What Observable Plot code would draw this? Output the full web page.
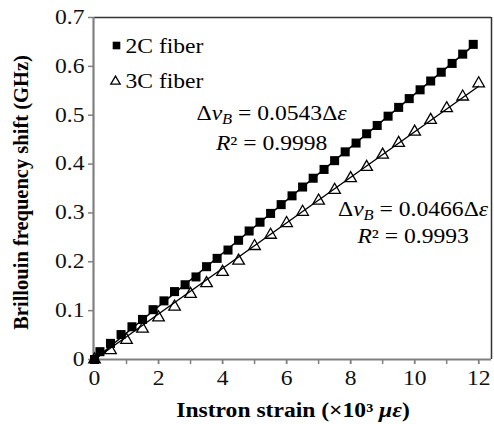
<!DOCTYPE html>
<html>
<head>
<meta charset="utf-8">
<script src="https://cdn.jsdelivr.net/npm/d3@7"></script>
<script src="https://cdn.jsdelivr.net/npm/@observablehq/plot@0.6"></script>
<style>
  html, body { margin: 0; padding: 0; background: #fff; }
  #chart svg { display: block; }
</style>
</head>
<body>
<div id="chart"></div>
<script>
// ---- data ----
const strain2C = [0, 0.17, 0.5, 0.83, 1.17, 1.5, 1.83, 2.17, 2.5, 2.83, 3.17, 3.5, 3.83, 4.17, 4.5, 4.83,
  5.17, 5.5, 5.83, 6.17, 6.5, 6.83, 7.17, 7.5, 7.83, 8.17, 8.5, 8.83, 9.17, 9.5, 9.83, 10.17, 10.5, 10.83, 11.17, 11.5, 11.83];
const shift2C = [0, 0.016, 0.033, 0.051, 0.067, 0.082, 0.102, 0.12, 0.139, 0.153, 0.169, 0.19, 0.207, 0.224, 0.244, 0.263,
  0.281, 0.299, 0.317, 0.335, 0.353, 0.371, 0.389, 0.407, 0.425, 0.443, 0.462, 0.479, 0.498, 0.516, 0.534, 0.552, 0.57, 0.588, 0.606, 0.625, 0.645];
const strain3C = [0, 0.5, 1, 1.5, 2, 2.5, 3, 3.5, 4, 4.5, 5, 5.5, 6, 6.5, 7, 7.5, 8, 8.5, 9, 9.5, 10, 10.5, 11, 11.5, 12];
const shift3C = [0, 0.019, 0.04, 0.063, 0.086, 0.108, 0.134, 0.156, 0.179, 0.202, 0.232, 0.255, 0.279, 0.302, 0.325, 0.347,
  0.371, 0.394, 0.419, 0.443, 0.466, 0.49, 0.514, 0.538, 0.565];
const seriesNames = ["2C fiber", "3C fiber"];
const slopes = [0.0543, 0.0466];
const r2 = ["0.9998", "0.9993"];
const fitEnds = [11.83, 12];
const xTicksAll = [0, 1, 2, 3, 4, 5, 6, 7, 8, 9, 10, 11, 12];
const xTickLabels = [0, 2, 4, 6, 8, 10, 12];
const yTicks = [0, 0.1, 0.2, 0.3, 0.4, 0.5, 0.6, 0.7];
const xDomain = [0, 12.4];
const yDomain = [0, 0.7];
// annotation anchors (data space)
const eqX = [5.53, 9.95];
const eqY = [0.503, 0.307];
const r2Y = [0.442, 0.251];

const pts2C = strain2C.map((x, i) => ({x, y: shift2C[i]}));
const pts3C = strain3C.map((x, i) => ({x, y: shift3C[i]}));
const fits = slopes.map((s, k) => [{x: 0, y: 0, k}, {x: fitEnds[k], y: s * fitEnds[k], k}]);
const eqs = slopes.map((s, k) => ({x: eqX[k], y: eqY[k], t: "EQ|" + s.toFixed(4)}));
const r2s = r2.map((r, k) => ({x: eqX[k], y: r2Y[k], t: "R2|" + r}));

const FONT = "Liberation Serif";
const axisGray = "#808080";
const ink = "#000";

const plot = Plot.plot({
  width: 494,
  height: 424,
  marginLeft: 94,
  marginRight: 3,
  marginTop: 17,
  marginBottom: 65,
  style: {fontFamily: FONT, fontSize: "20px", color: ink, background: "#fff"},
  x: {domain: xDomain},
  y: {domain: yDomain},
  marks: [
    // frame top/right
    Plot.ruleY([yDomain[1]], {stroke: "#333", strokeWidth: 1.5}),
    Plot.ruleX([xDomain[1]], {stroke: "#333", strokeWidth: 1.5}),
    // axes
    Plot.axisY({ticks: yTicks, tickSize: 6, tickPadding: 4, stroke: axisGray, strokeWidth: 1.5,
      tickFormat: d => d === 0 ? "0" : d.toFixed(1), label: null, fontSize: 20, fontFamily: FONT, fill: "#111"}),
    Plot.axisX({ticks: xTicksAll, tickSize: 5, tickFormat: () => "", label: null, stroke: axisGray, strokeWidth: 1.5}),
    Plot.axisX({ticks: xTickLabels, tickSize: 5, tickPadding: 6, label: null, stroke: axisGray, strokeWidth: 1.5,
      fontSize: 20, fontFamily: FONT, fill: "#111", tickFormat: d => String(d)}),
    Plot.ruleX([xDomain[0]], {stroke: axisGray, strokeWidth: 2.2, dx: -1}),
    Plot.ruleY([yDomain[0]], {stroke: axisGray, strokeWidth: 2.2}),
    // fit lines
    Plot.line(fits[0], {x: "x", y: "y", stroke: ink, strokeWidth: 1.6}),
    Plot.line(fits[1], {x: "x", y: "y", stroke: ink, strokeWidth: 1.4}),
    // data
    Plot.dot(pts2C, {x: "x", y: "y", symbol: "square", r: 5.1, fill: ink, stroke: "none"}),
    Plot.dot(pts3C, {x: "x", y: "y", symbol: "triangle", r: 4.3, fill: "none", stroke: ink, strokeWidth: 1.3}),
    // legend
    Plot.dot([seriesNames[0]], {frameAnchor: "top-left", dx: 22, dy: 28, symbol: "square", r: 4.3, fill: ink}),
    Plot.dot([seriesNames[1]], {frameAnchor: "top-left", dx: 21, dy: 64, symbol: "triangle", r: 3.5, fill: "none", stroke: ink, strokeWidth: 1.3}),
    Plot.text([seriesNames[0]], {frameAnchor: "top-left", dx: 31, dy: 29, text: d => d, textAnchor: "start", lineAnchor: "middle",
      fontSize: 20, fontFamily: FONT, fill: ink}),
    Plot.text([seriesNames[1]], {frameAnchor: "top-left", dx: 31, dy: 64, text: d => d, textAnchor: "start", lineAnchor: "middle",
      fontSize: 20, fontFamily: FONT, fill: ink}),
    // annotations
    Plot.text(eqs, {x: "x", y: "y", text: "t", textAnchor: "middle", fontSize: 20, fontFamily: FONT, fill: ink}),
    Plot.text(r2s, {x: "x", y: "y", text: "t", textAnchor: "middle", fontSize: 20, fontFamily: FONT, fill: ink}),
    // axis titles
    Plot.text(["Brillouin frequency shift (GHz)"], {frameAnchor: "left", dx: -73, dy: 4, rotate: -90, text: d => d,
      textAnchor: "middle", lineAnchor: "middle", fontSize: 20.5, fontWeight: "bold", fontFamily: FONT, fill: ink}),
    Plot.text(["XL|Instron strain (×10³ |με|)"], {frameAnchor: "bottom", dy: 51, text: d => d, lineAnchor: "middle",
      fontSize: 20, fontWeight: "bold", fontFamily: FONT, fill: ink})
  ]
});

// rich text for math annotations
const svgNS = "http://www.w3.org/2000/svg";
function ts(parent, txt, opts = {}) {
  const t = document.createElementNS(svgNS, "tspan");
  t.textContent = txt;
  if (opts.italic) t.setAttribute("font-style", "italic");
  if (opts.size) t.setAttribute("font-size", opts.size);
  if (opts.dy) t.setAttribute("dy", opts.dy);
  parent.appendChild(t);
  return t;
}
plot.querySelectorAll("text").forEach(el => {
  const s = el.textContent;
  if (s.startsWith("EQ|")) {
    const v = s.slice(3);
    el.textContent = "";
    ts(el, "Δ");
    ts(el, "v", {italic: true});
    ts(el, "B", {italic: true, size: "14px", dy: "0.3em"});
    ts(el, " = " + v + "Δ", {dy: "-0.21em"});
    ts(el, "ε", {italic: true});
  } else if (s.startsWith("R2|")) {
    const v = s.slice(3);
    el.textContent = "";
    ts(el, "R", {italic: true});
    ts(el, "² = " + v);
  } else if (s.startsWith("XL|")) {
    const parts = s.slice(3).split("|");
    el.textContent = "";
    ts(el, parts[0]);
    ts(el, parts[1], {italic: true});
    ts(el, parts[2]);
  }
});

document.getElementById("chart").appendChild(plot);

// the reference's lettering is horizontally widened; widen horizontal texts about their anchor
const SX = 1.18;
plot.querySelectorAll("text").forEach(el => {
  const tr = el.getAttribute("transform") || "";
  if (tr.includes("rotate")) return;
  let b;
  try { b = el.getBBox(); } catch (e) { return; }
  if (!b || !b.width) return;
  const anchor = getComputedStyle(el).textAnchor;
  const ax = anchor === "middle" ? b.x + b.width / 2 : anchor === "end" ? b.x + b.width : b.x;
  const ay = b.y + b.height / 2;
  el.setAttribute("transform", `${tr} translate(${ax},${ay}) scale(${SX},1) translate(${-ax},${-ay})`.trim());
});
</script>
</body>
</html>
